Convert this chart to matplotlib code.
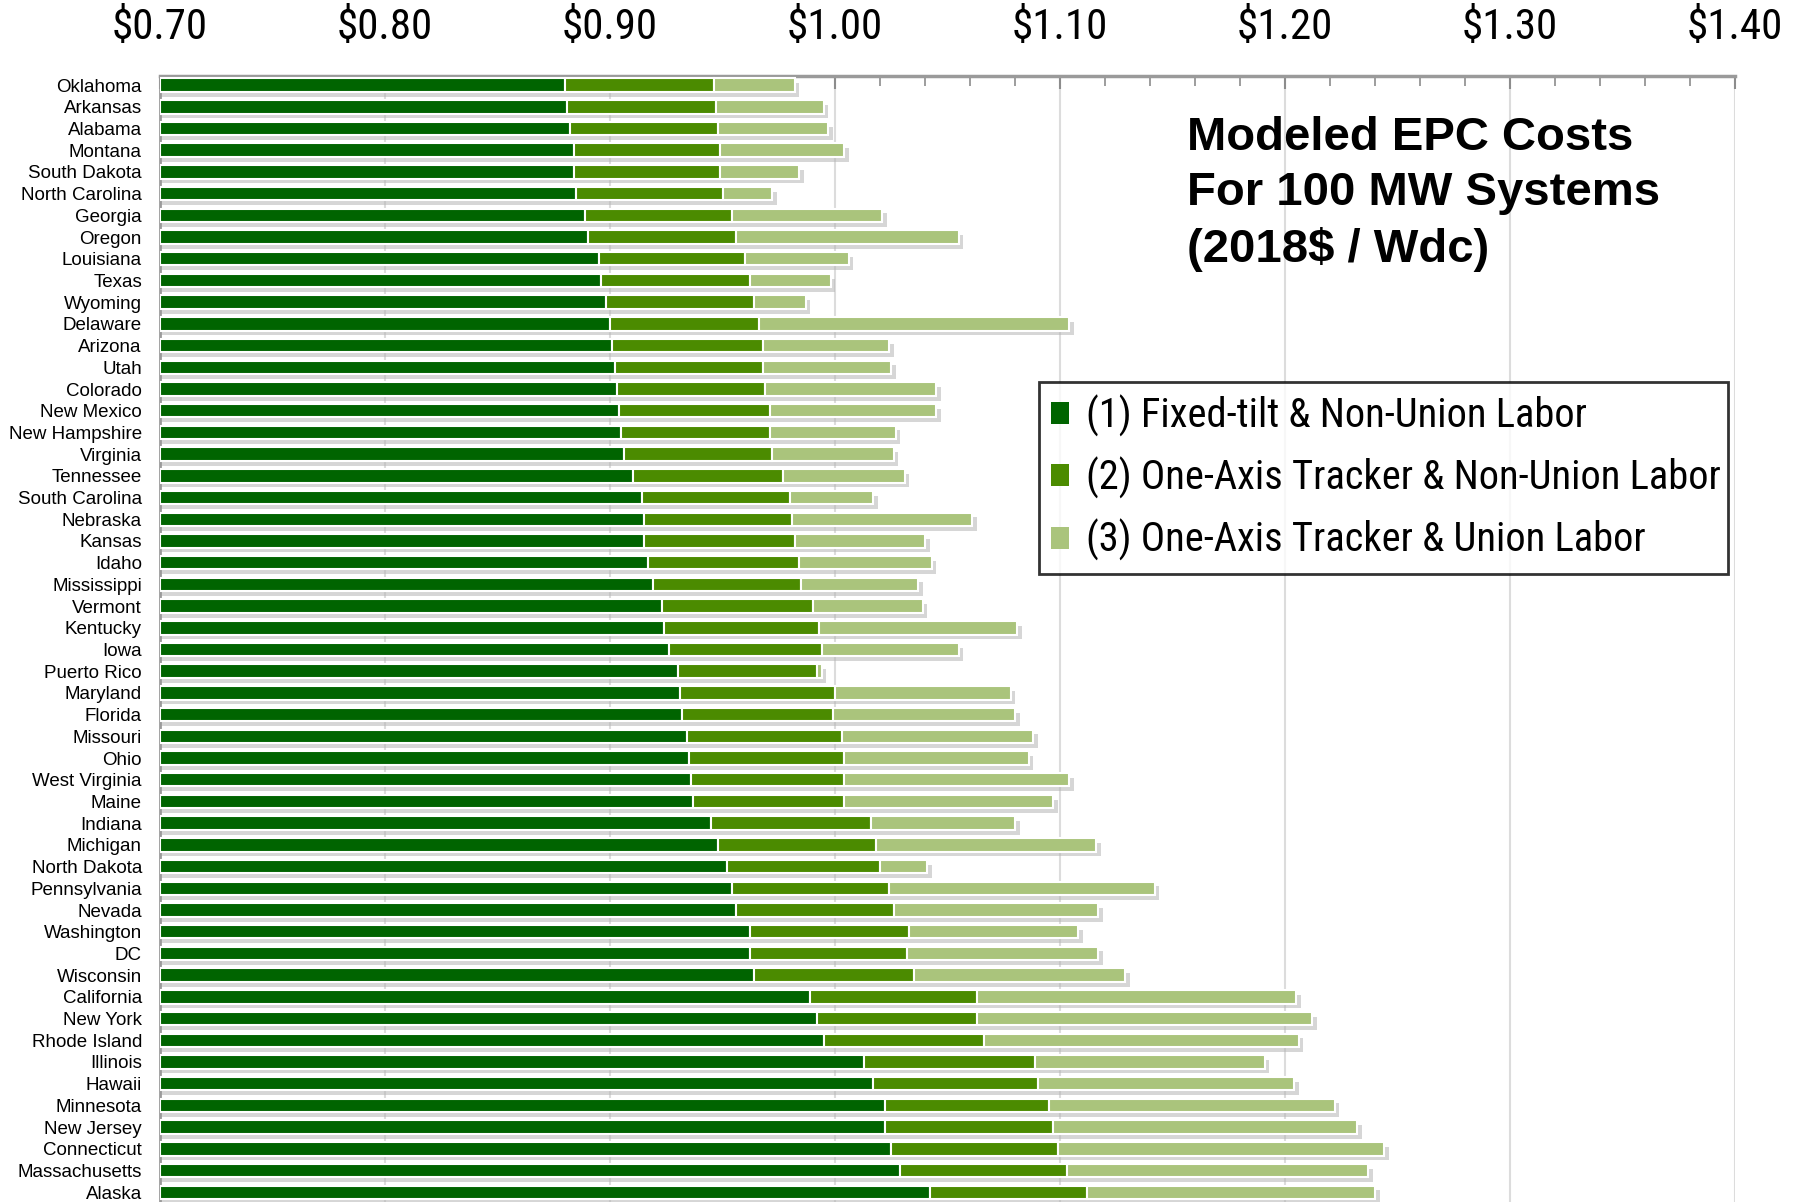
import matplotlib.pyplot as plt
from matplotlib.patches import Patch
from matplotlib import font_manager
import numpy as np

states = [
    "Oklahoma", "Arkansas", "Alabama", "Montana", "South Dakota", "North Carolina",
    "Georgia", "Oregon", "Louisiana", "Texas", "Wyoming", "Delaware", "Arizona",
    "Utah", "Colorado", "New Mexico", "New Hampshire", "Virginia", "Tennessee",
    "South Carolina", "Nebraska", "Kansas", "Idaho", "Mississippi", "Vermont",
    "Kentucky", "Iowa", "Puerto Rico", "Maryland", "Florida", "Missouri", "Ohio",
    "West Virginia", "Maine", "Indiana", "Michigan", "North Dakota", "Pennsylvania",
    "Nevada", "Washington", "DC", "Wisconsin", "California", "New York",
    "Rhode Island", "Illinois", "Hawaii", "Minnesota", "New Jersey", "Connecticut",
    "Massachusetts", "Alaska",
]

# (1) Fixed-tilt & Non-Union Labor
fixed_nonunion = [
    0.880, 0.881, 0.882, 0.884, 0.884, 0.885, 0.889, 0.890, 0.895, 0.896, 0.898,
    0.900, 0.901, 0.902, 0.903, 0.904, 0.905, 0.906, 0.910, 0.914, 0.915, 0.915,
    0.917, 0.919, 0.923, 0.924, 0.926, 0.930, 0.931, 0.932, 0.934, 0.935, 0.936,
    0.937, 0.945, 0.948, 0.952, 0.954, 0.956, 0.962, 0.962, 0.964, 0.989, 0.992,
    0.995, 1.013, 1.017, 1.022, 1.022, 1.025, 1.029, 1.042,
]
# (2) One-Axis Tracker & Non-Union Labor
tracker_nonunion = [
    0.946, 0.947, 0.948, 0.949, 0.949, 0.950, 0.954, 0.956, 0.960, 0.962, 0.964,
    0.966, 0.968, 0.968, 0.969, 0.971, 0.971, 0.972, 0.977, 0.980, 0.981, 0.982,
    0.984, 0.985, 0.990, 0.993, 0.994, 0.992, 1.000, 0.999, 1.003, 1.004, 1.004,
    1.004, 1.016, 1.018, 1.020, 1.024, 1.026, 1.033, 1.032, 1.035, 1.063, 1.063,
    1.066, 1.089, 1.090, 1.095, 1.097, 1.099, 1.103, 1.112,
]
# (3) One-Axis Tracker & Union Labor
tracker_union = [
    0.982, 0.995, 0.997, 1.004, 0.984, 0.972, 1.021, 1.055, 1.006, 0.998, 0.987,
    1.104, 1.024, 1.025, 1.045, 1.045, 1.027, 1.026, 1.031, 1.017, 1.061, 1.040,
    1.043, 1.037, 1.039, 1.081, 1.055, 0.994, 1.078, 1.080, 1.088, 1.086, 1.104,
    1.097, 1.080, 1.116, 1.041, 1.142, 1.117, 1.108, 1.117, 1.129, 1.205, 1.212,
    1.206, 1.191, 1.204, 1.222, 1.232, 1.244, 1.237, 1.240,
]

series_labels = [
    "(1) Fixed-tilt & Non-Union Labor",
    "(2) One-Axis Tracker & Non-Union Labor",
    "(3) One-Axis Tracker & Union Labor",
]
colors = ["#006400", "#4b8b00", "#aac47c"]
x_ticks = [0.70, 0.80, 0.90, 1.00, 1.10, 1.20, 1.30, 1.40]

plt.rcParams["font.family"] = ["Liberation Sans", "DejaVu Sans"]

# look for a narrow sans face (the reference uses an Arial Narrow look)
fonts = font_manager.fontManager.ttflist
narrow_font = None
for want in ["Liberation Sans Narrow", "Arial Narrow", "Roboto Condensed",
             "Noto Sans", "Open Sans", "DejaVu Sans"]:
    for f in fonts:
        is_narrow = ("Narrow" in f.name or "Condensed" in f.name
                     or f.stretch in ("condensed", "semi-condensed"))
        if f.name.startswith(want) and is_narrow and f.style == "normal" \
                and f.weight in (400, "normal", "regular", "book"):
            narrow_font = f.fname
            break
    if narrow_font:
        break


def narrow_props(size):
    if narrow_font:
        return font_manager.FontProperties(fname=narrow_font, size=size)
    return font_manager.FontProperties(family="Liberation Sans", size=size * 0.82)


fig = plt.figure(figsize=(18, 12.02), dpi=100)
ax = fig.add_axes([0.0889, 0.0, 0.8750, 0.9368])

base = 0.70
y = np.arange(len(states))
v1 = np.array(fixed_nonunion)
v2 = np.array(tracker_nonunion)
v3 = np.array(tracker_union)
h = 0.62

# soft shadow under each bar
ax.barh(y + 0.22, v3 - base + 0.002, left=base, height=h, color="#b5b5b5",
        alpha=0.55, linewidth=0, zorder=1)

ax.barh(y, v1 - base, left=base, height=h, color=colors[0],
        edgecolor="white", linewidth=1.5, zorder=3)
ax.barh(y, v2 - v1, left=v1, height=h, color=colors[1],
        edgecolor="white", linewidth=1.5, zorder=3)
ax.barh(y, v3 - v2, left=v2, height=h, color=colors[2],
        edgecolor="white", linewidth=1.5, zorder=3)

ax.set_xlim(0.70, 1.40)
ax.set_ylim(51.45, -0.42)

ax.xaxis.tick_top()
ax.set_xticks(x_ticks)
ax.set_xticklabels([f"${t:.2f}" for t in x_ticks])
for lab in ax.get_xticklabels():
    lab.set_fontproperties(narrow_props(31))
ax.set_xticks(np.arange(0.72, 1.40, 0.02), minor=True)
ax.tick_params(axis="x", which="major", direction="in", length=9, width=1.5,
               color="#8c8c8c", pad=20)
ax.tick_params(axis="x", which="minor", direction="in", length=7, width=1.2,
               color="#8c8c8c")
ax.grid(axis="x", which="major", color="#dcdcdc", linewidth=1.5, zorder=0)
ax.set_axisbelow(True)

ax.set_yticks(y)
ax.set_yticklabels(states, fontsize=13.5)
ax.tick_params(axis="y", length=0, pad=13)

for side in ["right", "bottom"]:
    ax.spines[side].set_visible(False)
ax.spines["top"].set_color("#9a9a9a")
ax.spines["top"].set_linewidth(2.5)
ax.spines["left"].set_color("#9a9a9a")
ax.spines["left"].set_linewidth(2)

fig.text(0.6594, 0.9035, "Modeled EPC Costs\nFor 100 MW Systems\n(2018$ / Wdc)",
         fontsize=34, fontweight="bold", va="top", ha="left", linespacing=1.33)

handles = [Patch(facecolor=c, edgecolor="none") for c in colors]
leg = ax.legend(handles, series_labels, loc="upper left",
                bbox_to_anchor=(0.5772, 0.524, 0.3828, 0.158),
                bbox_transform=fig.transFigure, mode="expand",
                prop=narrow_props(29.2), frameon=True, fancybox=False,
                handlelength=0.45, handleheight=0.45, handletextpad=0.4,
                labelspacing=0.5, borderpad=0.3, borderaxespad=0)
leg.get_frame().set_edgecolor("black")
leg.get_frame().set_linewidth(2)
leg.set_zorder(5)

fig.savefig("out.png", dpi=100)
